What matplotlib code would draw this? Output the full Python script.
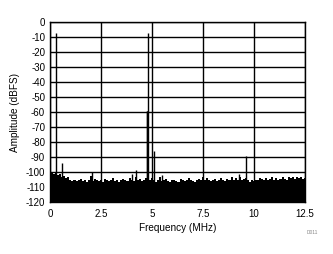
import matplotlib
matplotlib.use("Agg")
import matplotlib.pyplot as plt
import numpy as np

plt.rcParams['font.family'] = ['Liberation Sans', 'DejaVu Sans']
plt.rcParams['axes.unicode_minus'] = False

# Noise floor (dBFS) sampled every 0.1 MHz from 0 to 12.5 MHz
noise_freq = [round(i * 0.1, 1) for i in range(126)]
noise_db = [
    -99.5, -100.5, -101, -100.5, -102, -101.5, -103, -102.5, -104, -103.5,
    -105, -106, -105.5, -106, -105, -104.5, -106, -105, -106.5, -105,
    -102.5, -106, -104.5, -105.5, -106, -105, -106.5, -104.5, -105, -106,
    -105.5, -104, -106, -105, -106.5, -105, -104.5, -105.5, -106, -104,
    -105, -106, -103.5, -105, -104.5, -106, -105.5, -104, -104.5, -105,
    -104, -105, -106.5, -105.5, -103.5, -106, -105, -104.5, -106, -106.5,
    -105, -105.5, -106, -106.5, -104.5, -105.5, -106, -105, -104, -105.5,
    -106, -106.5, -105, -104.5, -105.5, -103.5, -105, -104, -105.5, -106,
    -105, -104.5, -106, -105.5, -104, -105, -106, -104.5, -105, -103.5,
    -105, -104, -105.5, -103.5, -105, -104.5, -104, -105, -106.5, -105.5,
    -106, -105, -105.5, -104, -104.5, -105.5, -104, -105, -104.5, -103.5,
    -105, -104, -105.5, -104.5, -103, -104.5, -105, -103.5, -104, -103,
    -104.5, -103.5, -104, -103, -104.5, -104,
]

# Spurs / tones (MHz, dBFS)
spur_freq = [0.29, 0.6, 2.05, 4.0, 4.2, 4.74, 4.77, 4.82, 5.11, 5.5, 9.28, 9.59]
spur_db = [-7.5, -94, -100, -101, -98.5, -59, -59, -7.5, -86, -102, -101, -89]

x_ticks = [0, 2.5, 5, 7.5, 10, 12.5]
x_ticklabels = ['0', '2.5', '5', '7.5', '10', '12.5']
y_ticks = list(range(-120, 1, 10))

fig = plt.figure(figsize=(3.33, 2.54), dpi=100)
ax = fig.add_axes([50/333, 1 - 202/254, 255/333, 180/254])

ax.fill_between(noise_freq, -120, noise_db, step='mid', color='black', lw=0)
ax.vlines(spur_freq, -120, spur_db, color='black', lw=1.0)

ax.set_xlim(0, 12.5)
ax.set_ylim(-120, 0)
ax.set_xticks(x_ticks)
ax.set_xticklabels(x_ticklabels)
ax.set_yticks(y_ticks)
ax.grid(True, color='black', lw=1.0)
ax.set_axisbelow(False)
for s in ax.spines.values():
    s.set_color('black')
    s.set_linewidth(1.0)
ax.tick_params(length=0, labelsize=7, pad=5)
ax.tick_params(axis='y', pad=3.5)
ax.set_xlabel('Frequency (MHz)', fontsize=7.2, labelpad=3)
ax.set_ylabel('Amplitude (dBFS)', fontsize=7.2, va='center')
ax.yaxis.set_label_coords((15 - 50) / 255, 0.5)
fig.text(312/333, 1 - 233/254, 'D011', fontsize=3.5, color='#888888', ha='center', va='center')

fig.savefig('out.png', dpi=100)
